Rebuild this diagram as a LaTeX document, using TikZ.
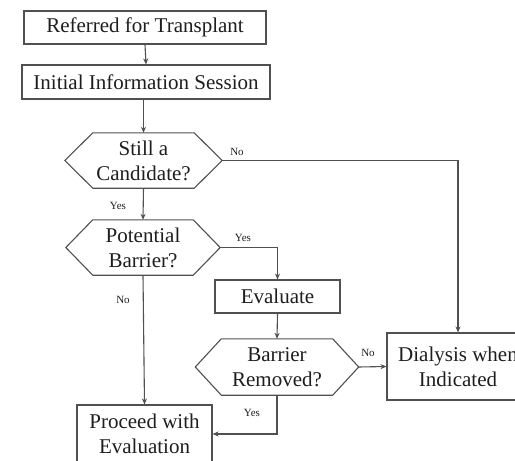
\documentclass[tikz,border=0pt]{standalone}
\usepackage{fontspec}
\setmainfont{Liberation Serif}
\usetikzlibrary{arrows.meta}
\definecolor{ln}{HTML}{505050}
\definecolor{tx}{HTML}{1E1E1E}
\tikzset{
  boxnode/.style={draw=ln, line width=1.1pt, inner sep=0pt, align=center, text=tx,
    font=\fontsize{21}{25}\selectfont},
  hexnode/.style={inner sep=0pt, align=center, text=tx, font=\fontsize{21}{25}\selectfont},
  conn/.style={draw=ln, line width=1.1pt, -{Stealth[length=6pt,width=5pt]}},
  lab/.style={text=tx, font=\fontsize{11}{13}\selectfont, inner sep=0pt},
}
\newcommand{\hexdraw}[2]{%
  \draw[ln, line width=1.1pt] (#1.west) -- ([xshift=#2]#1.north west) -- ([xshift=-#2]#1.north east)
    -- (#1.east) -- ([xshift=-#2]#1.south east) -- ([xshift=#2]#1.south west) -- cycle;}
\begin{document}
\begin{tikzpicture}[x=1pt,y=-1pt]
\clip (0,0) rectangle (515,461);
\fill[white] (0,0) rectangle (515,461);
\node[boxnode, minimum width=242pt, minimum height=33pt] (ref) at (145,27.5) {Referred for Transplant};
\node[boxnode, minimum width=248pt, minimum height=34pt] (init) at (146,82) {Initial Information Session};
\node[hexnode, minimum width=157pt, minimum height=55pt] (cand) at (143.5,160.5) {Still a\\Candidate?};
\hexdraw{cand}{28pt}
\node[hexnode, minimum width=154pt, minimum height=55pt] (pot) at (143,247.5) {Potential\\Barrier?};
\hexdraw{pot}{27pt}
\node[boxnode, minimum width=125pt, minimum height=33pt] (eval) at (277.5,296.5) {Evaluate};
\node[hexnode, minimum width=163pt, minimum height=56pt] (rem) at (277,367) {Barrier\\Removed?};
\hexdraw{rem}{26pt}
\node[boxnode, minimum width=142pt, minimum height=67pt] (dia) at (458,366.5) {Dialysis when\\Indicated};
\node[boxnode, minimum width=135pt, minimum height=58pt] (proc) at (144.5,434) {Proceed with\\Evaluation};

\draw[conn] (ref.south) -- (init.north);
\draw[conn] (init.south -| cand.north) -- (cand.north);
\draw[conn] (cand.east) -| (dia.north);
\draw[conn] (cand.south) -- (pot.north);
\draw[conn] (pot.east) -| (eval.north);
\draw[conn] (eval.south) -- (rem.north);
\draw[conn] (rem.east) -- (dia.west);
\draw[conn] (rem.south) |- (proc.east);
\draw[conn] (pot.south) -- (proc.north);

\node[lab] (l1) at (237,152) {No};
\node[lab] (l2) at (118,206) {Yes};
\node[lab] (l3) at (243,238) {Yes};
\node[lab] (l4) at (123,300) {No};
\node[lab] (l5) at (368,353) {No};
\node[lab] (l6) at (252,413) {Yes};
\end{tikzpicture}
\end{document}
